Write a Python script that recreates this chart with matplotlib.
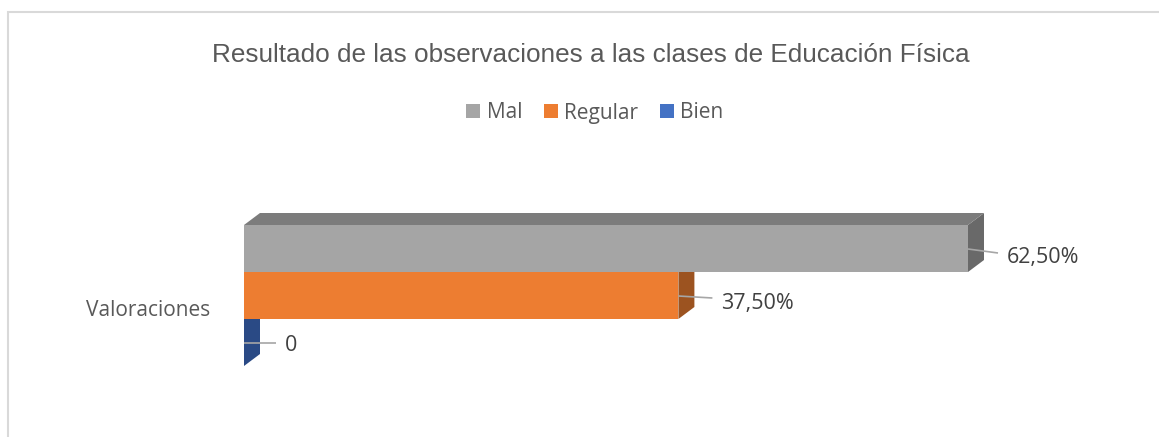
import matplotlib
matplotlib.use("Agg")
import matplotlib.pyplot as plt
from matplotlib.patches import Polygon, Rectangle

title = "Resultado de las observaciones a las clases de Educación Física"
category = "Valoraciones"
series = ["Mal", "Regular", "Bien"]
values = [62.5, 37.5, 0]
labels = ["62,50%", "37,50%", "0"]
front = ["#a5a5a5", "#ed7d31", "#4472c4"]
top_c = ["#7c7c7c", "#b05e25", "#2f5597"]
side_c = ["#696969", "#9c5320", "#2a4a85"]

W, H = 1159, 437
plt.rcParams["font.family"] = ["Open Sans", "DejaVu Sans"]
fig = plt.figure(figsize=(W / 100, H / 100), dpi=100)
fig.patch.set_facecolor("white")

def fx(p): return p / W
def fy(p): return 1 - p / H

# chart frame: only the left and top edges are visible
fig.add_artist(plt.Line2D([fx(8), fx(8), fx(1159)], [fy(437), fy(12), fy(12)],
                          color="#d9d9d9", lw=1.5, solid_joinstyle="miter"))

# plot area: x is the value scale, y has one band per series
x0, x_end, y_top, y_bot = 244, 968, 225, 366
ax = fig.add_axes([fx(x0), fy(y_bot), fx(x_end - x0), (y_bot - y_top) / H])
ax.set_xlim(0, values[0])
ax.set_ylim(3, 0)
ax.axis("off")

ux = values[0] / (x_end - x0)
uy = 3 / (y_bot - y_top)
dx, dy = 16 * ux, 12 * uy

# leader geometry per series, in pixels: length past the bar end, start/end shift from band centre
leader_len = [30, 34, 32]
leader_y0 = [0.5, 0.5, 0]
leader_y1 = [4.5, 2.5, 0]
label_shift = [5, 5, 3]

for i, (v, lab) in enumerate(zip(values, labels)):
    y0, y1 = i, i + 1
    # side face
    ax.add_patch(Polygon([(v, y0), (v + dx, y0 - dy), (v + dx, y1 - dy), (v, y1)],
                         closed=True, fc=side_c[i], ec="none", clip_on=False, zorder=2))
    # top face (only the first bar's is not hidden)
    if i == 0:
        ax.add_patch(Polygon([(0, y0), (dx, y0 - dy), (v + dx, y0 - dy), (v, y0)],
                             closed=True, fc=top_c[i], ec="none", clip_on=False, zorder=2))
    # leader and data label
    ymid = i + 0.5
    xe = v + leader_len[i] * ux
    ax.plot([v, xe], [ymid + leader_y0[i] * uy, ymid + leader_y1[i] * uy], color="#a6a6a6", lw=1.2,
            clip_on=False, zorder=5, solid_capstyle="butt")
    ax.text(xe + 9 * ux, ymid + (leader_y1[i] + label_shift[i]) * uy, lab, fontsize=15.5, color="#404040",
            va="center", ha="left", clip_on=False, zorder=6)

ax.barh([i + 0.5 for i in range(3)], values, height=1, color=front, edgecolor="none", zorder=3)

# category label
ax.text(-34 * ux, 1.81, category, fontsize=15, color="#595959", ha="right", va="center", clip_on=False)

# title and legend
fig.text(fx(590.5), fy(55), title, family="Liberation Sans", fontsize=18.85,
         color="#595959", ha="center", va="center")

handles = [Rectangle((0, 0), 1, 1, fc=c, ec="none") for c in front]
fig.legend(handles, series, loc="center", bbox_to_anchor=(fx(595), fy(113)), ncol=3, frameon=False,
           fontsize=15, handlelength=0.67, handleheight=0.67, handletextpad=0.3, columnspacing=1.05,
           labelcolor="#595959")

fig.savefig("out.png", dpi=100, facecolor="white")
